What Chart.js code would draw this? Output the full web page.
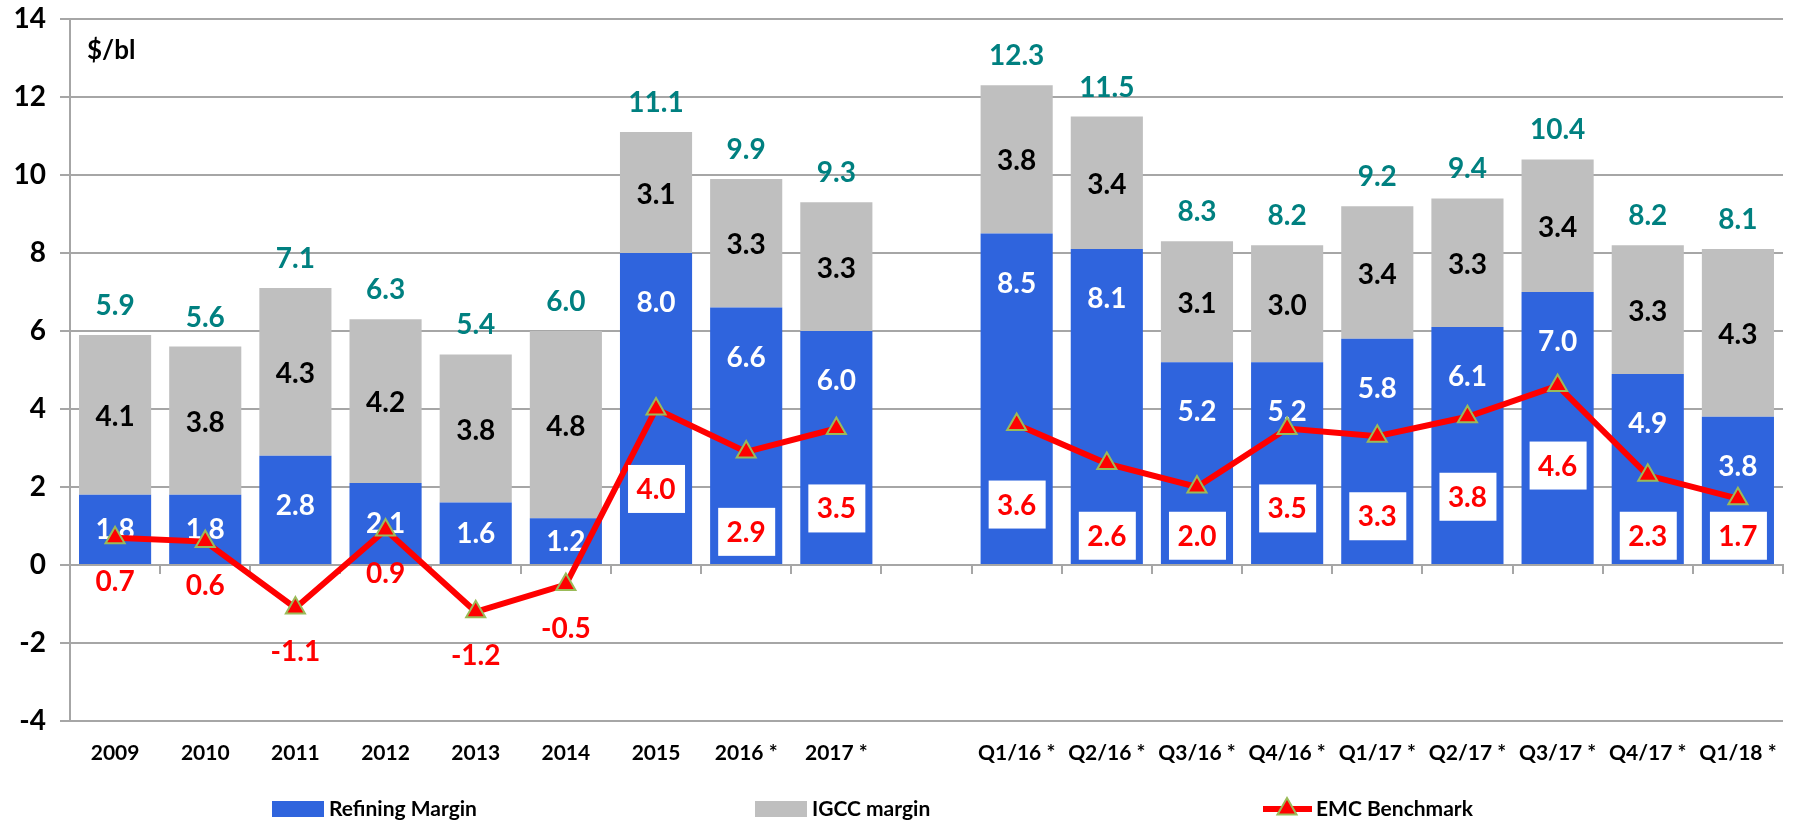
<!DOCTYPE html>
<html>
<head>
<meta charset="utf-8">
<script src="https://cdn.jsdelivr.net/npm/chart.js@4.4.1/dist/chart.umd.min.js"></script>
<style>
  html, body { margin: 0; padding: 0; background: #fff; }
</style>
</head>
<body>
<canvas id="margins" width="1800" height="824"></canvas>
<script>
var categories = ["2009", "2010", "2011", "2012", "2013", "2014", "2015", "2016 *", "2017 *", "",
    "Q1/16 *", "Q2/16 *", "Q3/16 *", "Q4/16 *", "Q1/17 *", "Q2/17 *", "Q3/17 *", "Q4/17 *", "Q1/18 *"];
var refiningMargin = [1.8, 1.8, 2.8, 2.1, 1.6, 1.2, 8.0, 6.6, 6.0, null, 8.5, 8.1, 5.2, 5.2, 5.8, 6.1, 7.0, 4.9, 3.8];
var igccMargin = [4.1, 3.8, 4.3, 4.2, 3.8, 4.8, 3.1, 3.3, 3.3, null, 3.8, 3.4, 3.1, 3.0, 3.4, 3.3, 3.4, 3.3, 4.3];
var totalMargin = [5.9, 5.6, 7.1, 6.3, 5.4, 6.0, 11.1, 9.9, 9.3, null, 12.3, 11.5, 8.3, 8.2, 9.2, 9.4, 10.4, 8.2, 8.1];
var emcBenchmark = [0.7, 0.6, -1.1, 0.9, -1.2, -0.5, 4.0, 2.9, 3.5, null, 3.6, 2.6, 2.0, 3.5, 3.3, 3.8, 4.6, 2.3, 1.7];
var yTicks = [-4, -2, 0, 2, 4, 6, 8, 10, 12, 14];

var FONT = "Lato, 'Open Sans', sans-serif";
var BLUE = "#2F64DD";
var GREY = "#BFBFBF";
var RED = "#FF0000";
var GRID = "#A6A6A6";

function fmt(v) { return v.toFixed(1); }

// white / black / teal labels on the stacked bars
var barLabels = {
    id: "barLabels",
    afterDatasetDraw: function (chart, args) {
        if (args.index !== 0) return;
        var ctx = chart.ctx, y = chart.scales.y;
        var bars = chart.getDatasetMeta(0).data;
        ctx.save();
        ctx.textAlign = "center";
        ctx.textBaseline = "middle";
        ctx.font = "bold 28px " + FONT;
        for (var i = 0; i < categories.length; i++) {
            if (totalMargin[i] === null) continue;
            var bx = bars[i].x;
            var y0 = y.getPixelForValue(0);
            var y1 = y.getPixelForValue(refiningMargin[i]);
            var y2 = y.getPixelForValue(totalMargin[i]);
            ctx.fillStyle = "#FFFFFF";
            ctx.fillText(fmt(refiningMargin[i]), bx, y1 + Math.min(50, (y0 - y1) / 2));
            ctx.fillStyle = "#000000";
            ctx.fillText(fmt(igccMargin[i]), bx, (y1 + y2) / 2 + 2);
            ctx.fillStyle = "#008080";
            ctx.fillText(fmt(totalMargin[i]), bx, y2 - 29);
        }
        ctx.restore();
    }
};

// red EMC labels, unit label and legend
var extras = {
    id: "extras",
    afterDatasetsDraw: function (chart) {
        var ctx = chart.ctx, y = chart.scales.y, area = chart.chartArea;
        var pts = chart.getDatasetMeta(2).data;
        ctx.save();
        ctx.textAlign = "center";
        ctx.textBaseline = "middle";
        ctx.font = "bold 28px " + FONT;
        for (var i = 0; i < categories.length; i++) {
            var v = emcBenchmark[i];
            if (v === null) continue;
            var px = pts[i].x;
            var boxed = v >= 1.5;
            var ly = boxed ? y.getPixelForValue(Math.max(v - 2.05, 0.75)) : pts[i].y + 43;
            if (boxed) {
                ctx.fillStyle = "#FFFFFF";
                ctx.fillRect(px - 28, ly - 24, 57, 48);
            }
            ctx.fillStyle = RED;
            ctx.fillText(fmt(v), px, ly + 1);
        }

        ctx.textAlign = "left";
        ctx.fillStyle = "#000";
        ctx.font = "bold 26px " + FONT;
        ctx.fillText("$/bl", area.left + 17, area.top + 32);

        // legend
        var ly2 = 809;
        ctx.font = "bold 21px " + FONT;
        ctx.fillStyle = BLUE;
        ctx.fillRect(272, ly2 - 8, 52, 16);
        ctx.fillStyle = "#000";
        ctx.fillText("Refining Margin", 329, ly2);
        ctx.fillStyle = GREY;
        ctx.fillRect(755, ly2 - 8, 52, 16);
        ctx.fillStyle = "#000";
        ctx.fillText("IGCC margin", 812, ly2);
        ctx.strokeStyle = RED;
        ctx.lineWidth = 6;
        ctx.beginPath();
        ctx.moveTo(1263, ly2);
        ctx.lineTo(1312, ly2);
        ctx.stroke();
        ctx.fillStyle = RED;
        ctx.strokeStyle = "#9BBB59";
        ctx.lineWidth = 2;
        Chart.helpers.drawPoint(ctx, { pointStyle: "triangle", radius: 11, borderWidth: 2 }, 1287, ly2);
        ctx.fillStyle = "#000";
        ctx.fillText("EMC Benchmark", 1316, ly2);
        ctx.restore();
    }
};

Chart.defaults.font.family = FONT;

var chart = new Chart(document.getElementById("margins").getContext("2d"), {
    data: {
        labels: categories,
        datasets: [
            {
                type: "bar",
                label: "Refining Margin",
                data: refiningMargin,
                backgroundColor: BLUE,
                borderWidth: 0,
                barPercentage: 0.8,
                categoryPercentage: 1.0,
                stack: "margin",
                order: 1,
                xAxisID: "x",
            },
            {
                type: "bar",
                label: "IGCC margin",
                data: igccMargin,
                backgroundColor: GREY,
                borderWidth: 0,
                barPercentage: 0.8,
                categoryPercentage: 1.0,
                stack: "margin",
                order: 1,
                xAxisID: "x",
            },
            {
                type: "line",
                label: "EMC Benchmark",
                data: emcBenchmark,
                borderColor: RED,
                borderWidth: 6,
                pointStyle: "triangle",
                pointRadius: 11,
                pointHoverRadius: 11,
                pointBackgroundColor: RED,
                pointBorderColor: "#9BBB59",
                pointBorderWidth: 2,
                spanGaps: false,
                tension: 0,
                stack: "emc",
                order: 0,
                xAxisID: "x",
            },
        ],
    },
    options: {
        responsive: false,
        animation: false,
        devicePixelRatio: 1,
        layout: { padding: { left: 0, right: 17, top: 19, bottom: 60 } },
        plugins: {
            legend: { display: false },
            tooltip: { enabled: false },
        },
        scales: {
            x: {
                stacked: true,
                offset: true,
                grid: { display: false, drawTicks: false },
                border: { display: false },
                ticks: {
                    color: "#000",
                    font: { size: 21, weight: "bold" },
                    padding: 20,
                    maxRotation: 0,
                    autoSkip: false,
                },
                afterFit: function (s) { s.height = 43; s.paddingLeft = 0; s.paddingRight = 0; },
            },
            x0: {
                type: "category",
                axis: "x",
                labels: categories,
                position: { y: 0 },
                offset: true,
                grid: { drawOnChartArea: false, tickLength: 8, color: GRID, lineWidth: 2, offset: true },
                border: { display: true, color: GRID, width: 2 },
                ticks: { display: false },
            },
            y: {
                stacked: true,
                min: yTicks[0],
                max: yTicks[yTicks.length - 1],
                ticks: {
                    stepSize: 2,
                    color: "#000",
                    font: { size: 28, weight: "bold" },
                    padding: 14,
                },
                grid: { color: GRID, lineWidth: 2, tickLength: 10 },
                border: { color: GRID, width: 2 },
                afterFit: function (s) { s.width = 70; s.paddingTop = 0; s.paddingBottom = 0; },
            },
        },
    },
    plugins: [barLabels, extras],
});
</script>
</body>
</html>
